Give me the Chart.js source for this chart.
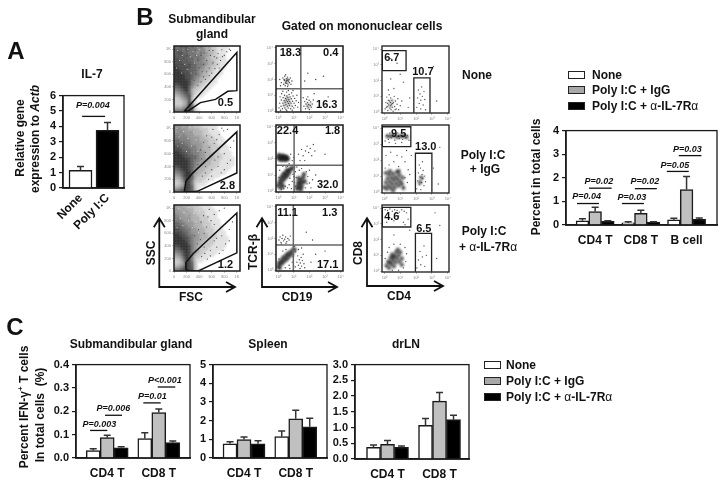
<!DOCTYPE html>
<html>
<head>
<meta charset="utf-8">
<title>IL-7 figure</title>
<script src="https://cdn.jsdelivr.net/npm/chart.js@4/dist/chart.umd.min.js"></script>
<style>
  html, body { margin: 0; padding: 0; background: #fff; }
  #page { position: relative; width: 725px; height: 484px; overflow: hidden; font-family: "Liberation Sans", Arial, sans-serif; font-weight: bold; color: #111; }
  #page canvas { position: absolute; }
  #page svg { position: absolute; left: 0; top: 0; }
  .t { position: absolute; white-space: nowrap; transform: translate(-50%, -50%); line-height: 1; }
  .sw { position: absolute; box-sizing: border-box; border: 1.5px solid #222; }
  .thin { font-weight: normal; }
  sup { font-size: 8px; line-height: 0; }
</style>
</head>
<body>
<div id="page"></div>
<script>
// Panel A
const aGroups = ['None', 'Poly I:C'];
const aValues = [1.15, 3.75];
const aErrTop = [1.4, 4.25];

// Panel B bar chart
const bGroups = ['CD4 T', 'CD8 T', 'B cell'];
const bNone = [0.18, 0.09, 0.22];
const bNoneErr = [0.26, 0.14, 0.29];
const bPoly = [0.57, 0.49, 1.5];
const bPolyErr = [0.75, 0.63, 2.05];
const bAnti = [0.16, 0.12, 0.24];
const bAntiErr = [0.18, 0.14, 0.3];

// Panel C
const cGroups = ['CD4 T', 'CD8 T'];
const smgNone = [0.032, 0.083];
const smgNoneErr = [0.04, 0.108];
const smgPoly = [0.087, 0.195];
const smgPolyErr = [0.097, 0.21];
const smgAnti = [0.044, 0.066];
const smgAntiErr = [0.048, 0.073];
const splNone = [0.76, 1.14];
const splNoneErr = [0.875, 1.44];
const splPoly = [0.99, 2.1];
const splPolyErr = [1.12, 2.56];
const splAnti = [0.76, 1.67];
const splAntiErr = [0.92, 2.13];
const lnNone = [0.37, 1.07];
const lnNoneErr = [0.445, 1.29];
const lnPoly = [0.465, 1.84];
const lnPolyErr = [0.59, 2.11];
const lnAnti = [0.37, 1.25];
const lnAntiErr = [0.416, 1.39];

// FSC/SSC density, top row first, digit = darkness
const fscNone = [
  '65767565464342211110000','76657656545332211100000','67766565464433211100000','76767656554432211100000',
  '77676665655332221100000','77767665554433211110000','77776766555433221100000','87777766554332211100000',
  '88777666544332111000000','88877766543322111000000','88887765543321110000000','88887765433221100000000',
  '88888754432211100000000','77888754322111000000000','66788643221110000000000','55678632211100000000000',
  '44567632111000000000000','33456731110000000000000','22345721000000000000000','22234731000000000000000',
  '22234851000000000000000','33345761000000000000000','55567762100000000000000'];
const fscPoly = [
  '44434332221111100000000','45444333322211100000000','44544443332211110000000','55454443332221110000000',
  '55555444433222111000000','66555544433322211100000','66665544443322211100000','77666555443332221110000',
  '77766655443332221110000','88776655544332221111000','88877665544333222111000','88887766544333222111100',
  '88888765544332221111100','88888765443332221111100','77888765433322211111000','66788764333222111110000',
  '55678864332221111100000','44578863322211110000000','33468763222111000000000','22358752221100000000000',
  '22348752111000000000000','33458762100000000000000','55678762000000000000000'];
const fscAnti = [
  '43433322211110000000000','44343332221111000000000','44434332222111100000000','54443433222111100000000',
  '55444433322211100000000','55544433322211110000000','66554443332221110000000','66655443332221111000000',
  '77665544333222111000000','77766544433222111100000','88776554433322211100000','88877654433322211110000',
  '88887654433222111110000','88888654332222111100000','77888754332221111100000','66788754322211111000000',
  '55678754322111100000000','44578753221111000000000','33468752211100000000000','22358752110000000000000',
  '22348762000000000000000','33458762000000000000000','55678772100000000000000'];

// loose dark dots at the edge of each density cloud, and pale specks inside it
const fscNoneDots = [[620,980],[700,930],[760,990],[680,860],[800,900],[620,780],[740,820],[840,960],[560,700],[690,760],[600,620],[520,640],[650,690],[770,880],[880,1000],[470,560],[560,580],[430,480],[500,520],[380,420],[640,880],[720,700],[900,980],[580,900],[520,820],[470,760],[430,900],[560,980],[450,640],[400,700],[350,600],[320,500],[480,940],[380,820]];
const fscPolyDots = [[620,980],[720,900],[790,960],[680,820],[560,700],[640,760],[500,620],[440,520],[380,430],[760,1000],[850,980],[520,880],[600,860],[470,780],[420,660],[340,560],[500,300],[600,350],[700,400],[800,600],[650,500],[900,700],[550,200],[750,300],[450,250],[850,450],[950,800],[600,250],[700,550],[800,350],[500,400],[900,500]];
const fscAntiDots = [[560,980],[640,900],[720,960],[590,800],[520,700],[640,740],[480,600],[420,500],[370,430],[800,1000],[470,880],[540,860],[430,780],[390,660],[330,560],[490,280],[580,330],[680,380],[760,560],[640,480],[880,660],[530,190],[720,280],[440,230],[820,430],[930,780],[580,240],[680,520],[780,330],[480,380],[880,480]];
const fscNoneSpecks = [[60,980],[130,900],[220,1000],[90,820],[260,880],[170,760],[40,700],[300,960],[210,680],[330,780],[120,620],[270,620],[360,900],[400,1000]];
const fscPolySpecks = [[50,1000],[150,950],[250,1020],[80,860],[220,840],[310,940],[130,760],[280,720],[350,820],[60,720],[380,640],[200,640]];
const fscAntiSpecks = [[70,990],[160,930],[240,1010],[100,840],[230,800],[320,920],[140,720],[290,690],[350,790],[50,690],[390,610],[410,960]];

// Gates on the FSC/SSC plots
const gateNone = [[164,10],[1000,948],[1000,340],[856,330],[661,201],[420,149],[292,62],[231,21],[164,10]];
const gatePoly = [[165,5],[190,170],[300,300],[1000,943],[1000,298],[370,10],[240,5],[165,5]];
const gateAnti = [[190,20],[190,134],[300,270],[1000,923],[1000,289],[395,5],[267,0],[190,20]];

// CD19 / TCR-b dots, in decades
const tcrNone = [[.2,1.8],[.3,2.1],[.35,1.7],[.4,1.95],[.42,2.2],[.45,1.6],[.5,1.85],[.52,2.05],[.55,1.75],[.58,1.95],[.6,2.15],[.63,1.65],[.66,1.9],[.7,2],[.72,1.8],[.78,2.1],[.82,1.7],[.1,2],[.15,1.6],[.88,1.9],[.48,2.3],[.6,1.55],[.38,2],[.53,1.92],[.47,1.78],[.62,2.03],
  [.05,.2],[.1,.5],[.12,.9],[.18,.3],[.2,.7],[.22,1.1],[.27,.15],[.3,.5],[.32,.85],[.36,.35],[.38,.65],[.4,1],[.43,.2],[.45,.55],[.47,.8],[.5,.1],[.5,.4],[.52,.7],[.54,1.2],[.56,.95],[.58,.3],[.6,.6],[.62,.85],[.64,.2],[.66,.48],[.68,.72],[.7,1.05],[.72,.35],[.74,.6],[.76,.9],[.8,.15],[.82,.5],[.84,.78],[.86,1.15],[.9,.3],[.92,.62],[.95,.95],[1,.2],[1.02,.5],[1.05,.8],[1.1,.35],[1.15,.65],[1.2,1],[1.25,.25],[1.3,.55],[.3,1.25],[.65,1.3],[.95,1.3],[.15,.05],[.55,.02],[.9,.05],
  [1.65,.3],[1.7,.6],[1.75,.15],[1.78,.45],[1.82,.75],[1.85,.3],[1.88,.55],[1.92,.2],[1.95,.42],[1.98,.68],[2,.1],[2.05,.35],[2.08,.58],[2.12,.25],[2.18,.45],[1.9,.9],[2.25,.7],[1.6,.85],
  [2.4,2],[2.9,2.2],[1.7,1.9],[1.9,2.4],[2.3,1.1],[3.2,.9]];
const tcrNoneDense = [[.5,1.9],[.6,1.85],[.45,.6],[.6,.55],[.7,.75],[.55,.85],[.4,.35],[.75,.4],[1.9,.4],[2,.3]];
const tcrPoly = [[.1,1.3],[.5,1.5],[.9,.6],[1,.9],[1.1,.3],[.7,.4],[.6,.2],[.85,.15],[1.1,1.2],[1.2,1.5],[1.35,1.3],[1.5,1.4],[1.8,1.2],[1.9,.9],[2,.5],[2.1,.2],[2.2,.7],[2,1.3],[1.4,1.9],[1.6,2.2],[1.75,2.5],[1.85,2.8],[1.95,2.4],[2.05,2.65],[2.15,2.2],[2.25,2.9],[1.5,2.6],[1.7,1.9],[1.3,2.3],[2.35,2.5],[.8,2.3],[.9,1.9],[1,2.1],[.7,1.7],[.3,1.55],[2.4,1],[2.7,.4],[2.5,1.6],[3,2.3],[.2,.1],[.45,.3],[.75,.8],[.95,1.05],[1.05,.55],[.35,.15],[.05,.85],[1.15,.85],[1.75,.2],[1.85,.45],[1.05,1.5],[.6,1.55]];
const tcrPolyDense = [[0,2.1],[.1,2],[.15,2.15],[.2,1.95],[.25,2.1],[.3,2.2],[.35,2],[.4,2.1],[.45,1.95],[.5,2.15],[.55,2.05],[.6,2],[.05,2.25],
  [0,.35],[.1,.55],[.15,.75],[.2,.45],[.25,.9],[.3,.65],[.35,1.05],[.4,.8],[.45,1.1],[.5,.9],[.55,1.25],[.6,1],[.65,1.3],[.7,1.15],[.8,1.35],[.9,1.45],[.3,.3],[.15,.2],
  [1.2,.15],[1.25,.35],[1.3,.55],[1.35,.2],[1.4,.45],[1.45,.7],[1.5,.3],[1.55,.55],[1.6,.85],[1.65,1.05],[1.45,.1],[1.3,.8],[1.7,.6]];
const tcrAnti = [[.05,1.9],[.12,2.1],[.18,1.75],[.25,2],[.3,2.2],[.35,1.85],[.42,1.95],[.48,2.1],[.55,1.8],[.62,2],[.7,1.9],[.78,2.15],[.2,1.65],[.5,1.7],
  [1.1,.2],[1.2,.5],[1.25,.9],[1.3,.3],[1.35,.65],[1.4,.1],[1.42,.45],[1.47,.8],[1.5,.25],[1.55,.6],[1.6,1],[1.65,.4],[1.7,.15],[1.12,1.15],[1.3,1.3],[1.5,1.4],[1.05,1.5],
  [.1,.1],[.45,.15],[.7,.3],[.9,.5],[.05,.7],[.95,.85],[.5,1.3],[.3,1.2],[.75,.1],[1,.25],[2.1,.5],[2.4,1],[2.2,1.9],[1.8,2.4],[3,1.2]];
const tcrAntiDense = [[0,.2],[.05,.45],[.12,.35],[.18,.6],[.25,.45],[.3,.75],[.35,.55],[.42,.85],[.48,.65],[.55,.95],[.6,.75],[.65,1.05],[.72,.9],[.8,1.15],[.88,1],[.95,1.25],[1.05,1.3],[.1,.15]];

// CD4 / CD8 dots, in decades
const cd8None = [[.05,.2],[.1,.6],[.15,.95],[.18,.35],[.22,.1],[.25,.75],[.28,.45],[.3,1.1],[.35,.25],[.38,.6],[.4,.9],[.42,.15],[.45,.5],[.48,.75],[.5,.3],[.55,.05],[.58,.6],[.62,1],[.65,.35],[.7,.7],[.75,.2],[.8,.5],[.85,.85],[.9,.15],[1,.4],[1.1,.7],[.25,1.4],[.6,1.5],[.2,.55],[.33,.7],[.4,.4],[.52,.55],[.12,.3],[.68,.15],
  [2.05,.3],[2.1,.9],[2.15,1.4],[2.2,.55],[2.25,1.15],[2.3,.2],[2.3,.75],[2.35,1.6],[2.4,1],[2.45,.45],[2.5,1.3],[2.55,.8],[2.6,.15],
  [1.2,1.9],[1.6,.9],[.4,2.1],[1,2.4],[.8,3.1],[.4,3.4],[3.3,.7],[3.1,2.9],[1.5,.3]];
const cd8NoneDense = [[.35,.6],[.45,.4],[.3,.35],[.5,.7]];
const cd8Poly = [[.05,1.5],[.3,1.7],[.6,1.9],[.9,1.6],[1.1,2.2],[1.3,1.9],[1.5,1.4],[1.2,.3],[1.3,.9],[1.45,.6],[1.6,1.1],[.1,2.3],[.4,2.5],[.8,2.3],[1.4,2.6],[1.7,2.3],[3.4,.5],[3.1,1.5],[3.5,2.8],
  [2.05,.2],[2.1,.7],[2.15,1.2],[2.2,.45],[2.25,.95],[2.28,1.5],[2.3,.15],[2.35,.6],[2.38,1.1],[2.42,.85],[2.45,1.35],[2.5,.4],[2.55,1],[2.6,.65],[2.2,1.7],[2.4,1.9],
  [.05,3.2],[.15,3.55],[.25,3.3],[.35,3.7],[.45,3.4],[.55,3.6],[.65,3.25],[.75,3.5],[.85,3.7],[.95,3.35],[1.05,3.55],[1.15,3.3],[1.25,3.6],[1.35,3.4],[1.45,3.55],[1.55,3.25],[.3,3.1],[.7,3.05],[1.1,3.1]];
const cd8PolyDense = [[0,.3],[.1,.6],[.15,.2],[.2,.85],[.25,.4],[.3,1.1],[.35,.65],[.4,.25],[.45,.9],[.5,.5],[.55,1.15],[.6,.75],[.65,.3],[.7,.95],[.75,.55],[.8,1.25],[.85,.8],[.9,.4],[.95,1.05],[1,.65],[.35,1.3],[.55,.1],[1.1,.5],[1.15,.9],[1.2,.25],[.9,1.3],[.1,1.2],
  [.2,3.5],[.4,3.5],[.6,3.55],[.8,3.45],[1,3.5],[1.2,3.5],[1.4,3.45],[2.25,.6],[2.35,.9]];
const cd8Anti = [[.1,.3],[.05,.8],[.2,1.2],[.3,1.5],[.6,1.7],[1,1.7],[1.3,1.5],[1.4,1.1],[1.35,.6],[1.2,.2],[.5,.05],[.9,.05],[.6,2.3],[1.6,2.6],[3.3,.8],[3.2,3.7],[3.5,2.9],
  [2.05,.2],[2.15,.7],[2.25,1.25],[2.3,.4],[2.4,.9],[2.5,1.6],[2.55,.3],[2.65,1],
  [.05,3.9],[.2,3.85],[.35,3.95],[.5,3.8],[.65,3.9],[.8,3.85],[.95,3.75],[1.1,3.9],[1.25,3.8],[1.4,3.7],[.3,3.4],[.6,3.2],[.9,3.5],[1.2,3.1],[1.5,3.3],[1.3,2.95],[.15,3.1]];
const cd8AntiDense = [[.15,.35],[.25,.6],[.3,.2],[.4,.85],[.45,.45],[.5,1.05],[.55,.7],[.6,.3],[.65,.95],[.7,.55],[.75,1.2],[.8,.8],[.85,1.35],[.9,1],[.95,.6],[1,1.2],[.35,.55],[.55,.9],[1.1,.8],[1.1,.4]];

// Quadrant and gate percentages
const fscPct = ['0.5', '2.8', '1.2'];
const tcrPct = [['18.3', '0.4', '16.3'], ['22.4', '1.8', '32.0'], ['11.1', '1.3', '17.1']];
const cd8Pct = [['6.7', '10.7'], ['9.5', '13.0'], ['4.6', '6.5']];

const page = document.getElementById('page');
const FONT = '"Liberation Sans", Arial, sans-serif';
const INK = '#1a1a1a';

function text(html, x, y, size, rotate) {
    const el = document.createElement('div');
    el.className = 't';
    el.innerHTML = html;
    el.style.left = x + 'px';
    el.style.top = y + 'px';
    el.style.fontSize = (size || 12) + 'px';
    if (rotate) el.style.transform = 'translate(-50%, -50%) rotate(' + rotate + 'deg)';
    page.appendChild(el);
}

function swatch(x, y, w, h, color) {
    const el = document.createElement('div');
    el.className = 'sw';
    el.style.cssText = `left:${x}px;top:${y}px;width:${w}px;height:${h}px;background:${color}`;
    page.appendChild(el);
}

// canvas laid out so the plot area lands on box l,t,r,b
function makeCanvas(box, pad) {
    const c = document.createElement('canvas');
    c.width = box.r - box.l + pad.l + pad.r;
    c.height = box.b - box.t + pad.t + pad.b;
    c.style.left = (box.l - pad.l) + 'px';
    c.style.top = (box.t - pad.t) + 'px';
    page.appendChild(c);
    return c;
}

// frame, error bars, P labels and their lines, all through the chart's scales
function marks(cfg) {
    return {
        id: 'marks',
        beforeDatasetDraw(chart, args) {
            const ds = chart.data.datasets[args.index];
            if (ds.blur) chart.ctx.filter = 'blur(' + ds.blur + 'px)';
        },
        afterDatasetDraw(chart) {
            chart.ctx.filter = 'none';
        },
        afterDatasetsDraw(chart) {
            const ctx = chart.ctx;
            const xs = chart.scales.x;
            const ys = chart.scales.y;
            ctx.save();
            chart.data.datasets.forEach((ds, i) => {
                if (!ds.errTop) return;
                chart.getDatasetMeta(i).data.forEach((bar, j) => {
                    const top = ys.getPixelForValue(ds.errTop[j]);
                    ctx.strokeStyle = '#333';
                    ctx.lineWidth = 1.5;
                    ctx.beginPath();
                    ctx.moveTo(bar.x, bar.y);
                    ctx.lineTo(bar.x, top);
                    ctx.moveTo(bar.x - 3.5, top);
                    ctx.lineTo(bar.x + 3.5, top);
                    ctx.stroke();
                });
            });
            (cfg.lines || []).forEach(l => {
                ctx.strokeStyle = l.color || '#111';
                ctx.lineWidth = l.width || 1.3;
                ctx.beginPath();
                ctx.moveTo(xs.getPixelForValue(l.x1), ys.getPixelForValue(l.y1));
                ctx.lineTo(xs.getPixelForValue(l.x2), ys.getPixelForValue(l.y2));
                ctx.stroke();
            });
            const a = chart.chartArea;
            ctx.strokeStyle = INK;
            ctx.lineWidth = cfg.frame || 1.3;
            ctx.strokeRect(a.left, a.top, a.right - a.left, a.bottom - a.top);
            ctx.fillStyle = '#111';
            ctx.textAlign = 'center';
            ctx.textBaseline = 'middle';
            (cfg.notes || []).forEach(n => {
                ctx.font = (n.font || 'italic bold 9px') + ' ' + FONT;
                ctx.fillText(n.text, xs.getPixelForValue(n.x), ys.getPixelForValue(n.y));
            });
            ctx.restore();
        }
    };
}

function barDs(label, values, errTop, color, thick) {
    return {
        label: label,
        data: values.map((v, i) => ({ x: i, y: v })),
        errTop: errTop,
        backgroundColor: color,
        borderColor: INK,
        borderWidth: 1.5,
        barThickness: thick
    };
}

function barChart(cfg) {
    const pad = cfg.pad || { l: 34, r: 3, t: 3, b: 26 };
    new Chart(makeCanvas(cfg.box, pad), {
        type: 'bar',
        data: { datasets: cfg.datasets },
        plugins: [marks(cfg)],
        options: {
            responsive: false,
            animation: false,
            events: [],
            layout: { padding: { top: pad.t, right: pad.r } },
            plugins: { legend: { display: false }, tooltip: { enabled: false } },
            scales: {
                x: {
                    type: 'linear',
                    offset: false,
                    min: cfg.xMin,
                    max: cfg.xMax,
                    grid: { display: false, drawTicks: false },
                    border: { color: INK, width: 1.8 },
                    afterBuildTicks: s => { s.ticks = cfg.groups.map((g, i) => ({ value: i })); },
                    afterFit: s => { s.height = pad.b; },
                    ticks: {
                        autoSkip: false,
                        callback: v => cfg.groups[v],
                        color: '#111',
                        padding: cfg.rotate ? 3 : 8,
                        minRotation: cfg.rotate || 0,
                        maxRotation: cfg.rotate || 0,
                        font: { family: FONT, weight: 'bold', size: 12 }
                    }
                },
                y: {
                    min: 0,
                    max: cfg.yMax,
                    grid: { drawOnChartArea: false, tickLength: 4, color: INK, lineWidth: 1.2 },
                    border: { color: INK, width: 1.5 },
                    afterBuildTicks: s => { s.ticks = cfg.yTicks.map(v => ({ value: v })); },
                    afterFit: s => { s.width = pad.l; },
                    ticks: {
                        autoSkip: false,
                        callback: v => v.toFixed(cfg.yDigits || 0),
                        color: '#111',
                        padding: 3,
                        font: { family: FONT, weight: 'bold', size: 11 }
                    }
                }
            }
        }
    });
}

// cell centres from a density grid, gray from the digit
function fromGrid(rows, span) {
    const n = rows.length;
    const pts = [];
    const colors = [];
    rows.forEach((row, r) => {
        row.split('').forEach((d, c) => {
            if (d === '0') return;
            pts.push({ x: (c + 0.5) * span / n, y: span - (r + 0.5) * span / n });
            const g = 250 - d * 30;
            colors.push(`rgb(${g},${g},${g})`);
        });
    });
    return { pts, colors };
}

function flowChart(cfg) {
    const pad = { l: 14, r: 2, t: 2, b: 11 };
    const tickFont = { family: FONT, size: 4, weight: 'normal' };
    const axis = (min, max, ticks, size) => ({
        type: 'linear',
        min: min,
        max: max,
        grid: { drawOnChartArea: false, tickLength: 2, color: '#999', lineWidth: 0.6 },
        border: { display: false },
        afterBuildTicks: s => { s.ticks = ticks.map(v => ({ value: v })); },
        afterFit: s => { if (size.w) s.width = size.w; else s.height = size.h; },
        ticks: { autoSkip: false, maxRotation: 0, color: '#888', padding: 1, font: tickFont, callback: cfg.tickLabel }
    });
    new Chart(makeCanvas(cfg.box, pad), {
        type: 'scatter',
        data: { datasets: cfg.datasets },
        plugins: [marks(cfg)],
        options: {
            responsive: false,
            animation: false,
            events: [],
            layout: { padding: { top: pad.t, right: pad.r } },
            plugins: { legend: { display: false }, tooltip: { enabled: false } },
            scales: {
                x: axis(cfg.xMin, cfg.xMax, cfg.ticks, { h: pad.b }),
                y: axis(cfg.yMin, cfg.yMax, cfg.ticks, { w: pad.l })
            }
        }
    });
}

const pairs = list => list.map(p => ({ x: p[0], y: p[1] }));

function gateDs(list, color, width) {
    return {
        data: pairs(list),
        showLine: true,
        fill: false,
        borderColor: color || '#111',
        borderWidth: width || 1.5,
        pointRadius: 0,
        tension: 0
    };
}

function dotDs(list, radius, color, blur) {
    return { data: pairs(list), pointRadius: radius, pointBackgroundColor: color, pointBorderWidth: 0, showLine: false, blur: blur };
}

// ---------- panel A ----------
barChart({
    box: { l: 63, t: 89, r: 124, b: 188 },
    pad: { l: 34, r: 3, t: 3, b: 60 },
    groups: aGroups,
    rotate: 45,
    xMin: -0.648, xMax: 1.61,
    yMax: 6, yTicks: [0, 1, 2, 3, 4, 5, 6],
    datasets: [barDs('IL-7', aValues, aErrTop, ['#fff', '#000'], 23)],
    notes: [{ text: 'P=0.004', x: 0.46, y: 5.33 }],
    lines: [{ x1: 0.06, x2: 0.91, y1: 4.65, y2: 4.65 }]
});

// ---------- panel B flow plots ----------
const rowsY = [[44, 112], [123, 192], [203, 271]];
const fscGrids = [fscNone, fscPoly, fscAnti];
const fscGates = [gateNone, gatePoly, gateAnti];
const fscLoose = [fscNoneDots, fscPolyDots, fscAntiDots];
const fscSpecks = [fscNoneSpecks, fscPolySpecks, fscAntiSpecks];
const fscNoteY = [139, 93, 93];
const fscNoteX = [818, 849, 818];
rowsY.forEach((ry, i) => {
    const g = fromGrid(fscGrids[i], 1050);
    flowChart({
        box: { l: 174, t: ry[0], r: 242, b: ry[1] },
        xMin: 0, xMax: 1050, yMin: 0, yMax: 1050,
        ticks: [0, 200, 400, 600, 800, 1000],
        tickLabel: v => (v === 1000 ? '1K' : v),
        frame: 1.5,
        datasets: [
            gateDs(fscGates[i]),
            dotDs(fscSpecks[i], 0.5, '#eee'),
            dotDs(fscLoose[i], 0.6, '#444'),
            { data: g.pts, pointStyle: 'rect', pointRadius: 2.3, pointBackgroundColor: g.colors, pointBorderWidth: 0, showLine: false, blur: 0.8 }
        ],
        notes: [{ text: fscPct[i], x: fscNoteX[i], y: fscNoteY[i], font: 'bold 11px' }]
    });
});

const decades = [0, 1, 2, 3, 4];
const decadeLabel = v => '10' + '⁰¹²³⁴'[v];
const tcrSparse = [tcrNone, tcrPoly, tcrAnti];
const tcrDense = [tcrNoneDense, tcrPolyDense, tcrAntiDense];
const tcrDarkness = [0.22, 0.8, 0.7];
const tcrSplit = [[1.45, 1.41], [1.02, 1.61], [0.97, 1.58]];
const tcrNotes = [
    [[.78, 3.68], [3.36, 3.68], [3.11, .37]],
    [[.6, 3.74], [3.48, 3.74], [3.17, .37]],
    [[.6, 3.62], [3.3, 3.62], [3.17, .31]]
];
rowsY.forEach((ry, i) => {
    flowChart({
        box: { l: 276, t: ry[0], r: 345, b: ry[1] },
        xMin: -0.14, xMax: 4.15, yMin: -0.06, yMax: 4.12,
        ticks: decades, tickLabel: decadeLabel, frame: 1.5,
        datasets: [
            dotDs(tcrSparse[i], 0.7, '#444'),
            dotDs(tcrDense[i], 2.2, `rgba(25,25,25,${tcrDarkness[i]})`, 1)
        ],
        lines: [
            { x1: tcrSplit[i][0], x2: tcrSplit[i][0], y1: -0.06, y2: 4.12, color: '#666', width: 1.5 },
            { x1: -0.14, x2: 4.15, y1: tcrSplit[i][1], y2: tcrSplit[i][1], color: '#666', width: 1.5 }
        ],
        notes: tcrPct[i].map((t, j) => ({ text: t, x: tcrNotes[i][j][0], y: tcrNotes[i][j][1], font: 'bold 11px' }))
    });
});

const cd8Boxes = [[44, 113], [123, 193], [203, 272]];
const cd8Sparse = [cd8None, cd8Poly, cd8Anti];
const cd8Dense = [cd8NoneDense, cd8PolyDense, cd8AntiDense];
const cd8Darkness = [0.2, 0.7, 0.7];
const cd8Top = [[-.13, 1.37, 3.9, 2.64], [-.13, 1.67, 4.09, 2.84], [-.13, 1.67, 4.05, 2.8]];
const cd8Low = [[1.86, 2.88, 2.17], [1.96, 3.0, 2.43], [1.96, 2.98, 2.39]];
const cd8Notes = [[[.47, 3.44], [2.43, 2.58]], [[.9, 3.62], [2.61, 2.82]], [[.47, 3.44], [2.49, 2.69]]];
cd8Boxes.forEach((ry, i) => {
    const a = cd8Top[i];
    const b = cd8Low[i];
    flowChart({
        box: { l: 382, t: ry[0], r: 451, b: ry[1] },
        xMin: -0.15, xMax: 4.08, yMin: -0.06, yMax: 4.2,
        ticks: decades, tickLabel: decadeLabel, frame: 1.3,
        datasets: [
            gateDs([[a[0], a[3]], [a[1], a[3]], [a[1], a[2]], [a[0], a[2]], [a[0], a[3]]], '#222', 1.3),
            gateDs([[b[0], -0.04], [b[0], b[2]], [b[1], b[2]], [b[1], -0.04]], '#222', 1.3),
            dotDs(cd8Sparse[i], 0.7, '#555'),
            dotDs(cd8Dense[i], 2.2, `rgba(30,30,30,${cd8Darkness[i]})`, 1)
        ],
        notes: cd8Pct[i].map((t, j) => ({ text: t, x: cd8Notes[i][j][0], y: cd8Notes[i][j][1], font: 'bold 11px' }))
    });
});

// ---------- panel B bars ----------
barChart({
    box: { l: 566, t: 124, r: 717, b: 225 },
    groups: bGroups,
    xMin: -0.638, xMax: 2.666,
    yMax: 4, yTicks: [0, 1, 2, 3, 4],
    datasets: [
        barDs('None', bNone, bNoneErr, '#fff', 12.7),
        barDs('Poly I:C + IgG', bPoly, bPolyErr, '#c0c0c0', 12.7),
        barDs('Poly I:C + a-IL-7Ra', bAnti, bAntiErr, '#000', 12.7)
    ],
    notes: [
        { text: 'P=0.04', x: -0.186, y: 1.2 },
        { text: 'P=0.02', x: 0.083, y: 1.86 },
        { text: 'P=0.03', x: 0.803, y: 1.15 },
        { text: 'P=0.02', x: 1.087, y: 1.86 },
        { text: 'P=0.05', x: 1.742, y: 2.53 },
        { text: 'P=0.03', x: 2.02, y: 3.2 }
    ],
    lines: [
        { x1: -0.397, x2: 0.083, y1: 0.91, y2: 0.91 },
        { x1: -0.135, x2: 0.36, y1: 1.56, y2: 1.56 },
        { x1: 0.585, x2: 1.066, y1: 0.91, y2: 0.91 },
        { x1: 0.869, x2: 1.35, y1: 1.54, y2: 1.54 },
        { x1: 1.568, x2: 2.048, y1: 2.27, y2: 2.27 },
        { x1: 1.83, x2: 2.325, y1: 2.94, y2: 2.94 }
    ]
});

// ---------- panel C ----------
barChart({
    box: { l: 76, t: 358, r: 190, b: 458 },
    groups: cGroups,
    xMin: -0.605, xMax: 1.605,
    yMax: 0.4, yTicks: [0, 0.1, 0.2, 0.3, 0.4], yDigits: 1,
    datasets: [
        barDs('None', smgNone, smgNoneErr, '#fff', 14),
        barDs('Poly I:C + IgG', smgPoly, smgPolyErr, '#c0c0c0', 14),
        barDs('Poly I:C + a-IL-7Ra', smgAnti, smgAntiErr, '#000', 14)
    ],
    notes: [
        { text: 'P=0.003', x: -0.153, y: 0.1455 },
        { text: 'P=0.006', x: 0.118, y: 0.212 },
        { text: 'P=0.01', x: 0.874, y: 0.265 },
        { text: 'P<0.001', x: 1.12, y: 0.332 }
    ],
    lines: [
        { x1: -0.333, x2: 0.002, y1: 0.118, y2: 0.118 },
        { x1: -0.043, x2: 0.287, y1: 0.183, y2: 0.183 },
        { x1: 0.70, x2: 1.037, y1: 0.236, y2: 0.236 },
        { x1: 0.979, x2: 1.32, y1: 0.304, y2: 0.304 }
    ]
});

barChart({
    box: { l: 213, t: 358, r: 327, b: 458 },
    groups: cGroups,
    xMin: -0.6, xMax: 1.605,
    yMax: 5, yTicks: [0, 1, 2, 3, 4, 5],
    datasets: [
        barDs('None', splNone, splNoneErr, '#fff', 14),
        barDs('Poly I:C + IgG', splPoly, splPolyErr, '#c0c0c0', 14),
        barDs('Poly I:C + a-IL-7Ra', splAnti, splAntiErr, '#000', 14)
    ]
});

barChart({
    box: { l: 355, t: 358, r: 469, b: 459 },
    groups: cGroups,
    xMin: -0.625, xMax: 1.567,
    yMax: 3, yTicks: [0, 0.5, 1, 1.5, 2, 2.5, 3], yDigits: 1,
    datasets: [
        barDs('None', lnNone, lnNoneErr, '#fff', 14),
        barDs('Poly I:C + IgG', lnPoly, lnPolyErr, '#c0c0c0', 14),
        barDs('Poly I:C + a-IL-7Ra', lnAnti, lnAntiErr, '#000', 14)
    ]
});

// ---------- gate axes arrows ----------
const arrows = [
    [159.3, 218.3, 287, 235],
    [262, 218.3, 287, 337],
    [367, 218.3, 286, 443]
];
const NS = 'http://www.w3.org/2000/svg';
const svg = document.createElementNS(NS, 'svg');
svg.setAttribute('width', 725);
svg.setAttribute('height', 484);
arrows.forEach(a => {
    const [x, top, y, right] = a;
    const d = `M${x - 5.5} ${top + 9}L${x} ${top}L${x + 5.5} ${top + 9}M${x} ${top}L${x} ${y}L${right} ${y}M${right - 9} ${y - 5}L${right} ${y}L${right - 9} ${y + 5}`;
    const p = document.createElementNS(NS, 'path');
    p.setAttribute('d', d);
    p.setAttribute('fill', 'none');
    p.setAttribute('stroke', '#111');
    p.setAttribute('stroke-width', 1.8);
    svg.appendChild(p);
});
page.appendChild(svg);

// ---------- text ----------
const alpha = '<span class="thin">α</span>';
text('A', 16, 51, 24);
text('B', 145, 17, 24);
text('C', 15, 327, 24);

text('IL-7', 92, 74, 12);
text('Relative gene', 20, 138, 12, -90);
text('expression to <i>Actb</i>', 35, 139, 12, -90);

text('Submandibular', 212, 19, 12);
text('gland', 212, 34, 12);
text('Gated on mononuclear cells', 362, 26, 12);
text('None', 477, 75, 12);
text('Poly I:C', 483, 155, 12);
text('+ IgG', 485, 169, 12);
text('Poly I:C', 484, 231, 12);
text('+ ' + alpha + '-IL-7R' + alpha, 488, 247, 12);

text('SSC', 151, 253, 12, -90);
text('FSC', 191, 297, 12);
text('TCR-β', 253, 252, 12, -90);
text('CD19', 297, 297, 12);
text('CD8', 358, 253, 12, -90);
text('CD4', 399, 296, 12);

text('Percent in total cells', 536, 177, 12, -90);
text('Percent IFN-γ<sup>+</sup> T cells', 24, 407, 12, -90);
text('In total cells&nbsp; (%)', 40, 415, 12, -90);

text('Submandibular gland', 131, 344, 12);
text('Spleen', 268, 344, 12);
text('drLN', 406, 344, 12);

// legends
const legendRows = ['None', 'Poly I:C + IgG', 'Poly I:C + ' + alpha + '-IL-7R' + alpha];
const legendFill = ['#fff', '#a8a8a8', '#000'];
const legendAt = [
    { sx: 568, tx: 592, ys: [75, 90, 106] },
    { sx: 484, tx: 506, ys: [365, 381, 397] }
];
legendAt.forEach(lg => {
    legendRows.forEach((label, i) => {
        swatch(lg.sx, lg.ys[i] - 4, 17, 8, legendFill[i]);
        const el = document.createElement('div');
        el.className = 't';
        el.innerHTML = label;
        el.style.left = lg.tx + 'px';
        el.style.top = lg.ys[i] + 'px';
        el.style.fontSize = '12px';
        el.style.transform = 'translate(0, -50%)';
        page.appendChild(el);
    });
});
</script>
</body>
</html>
